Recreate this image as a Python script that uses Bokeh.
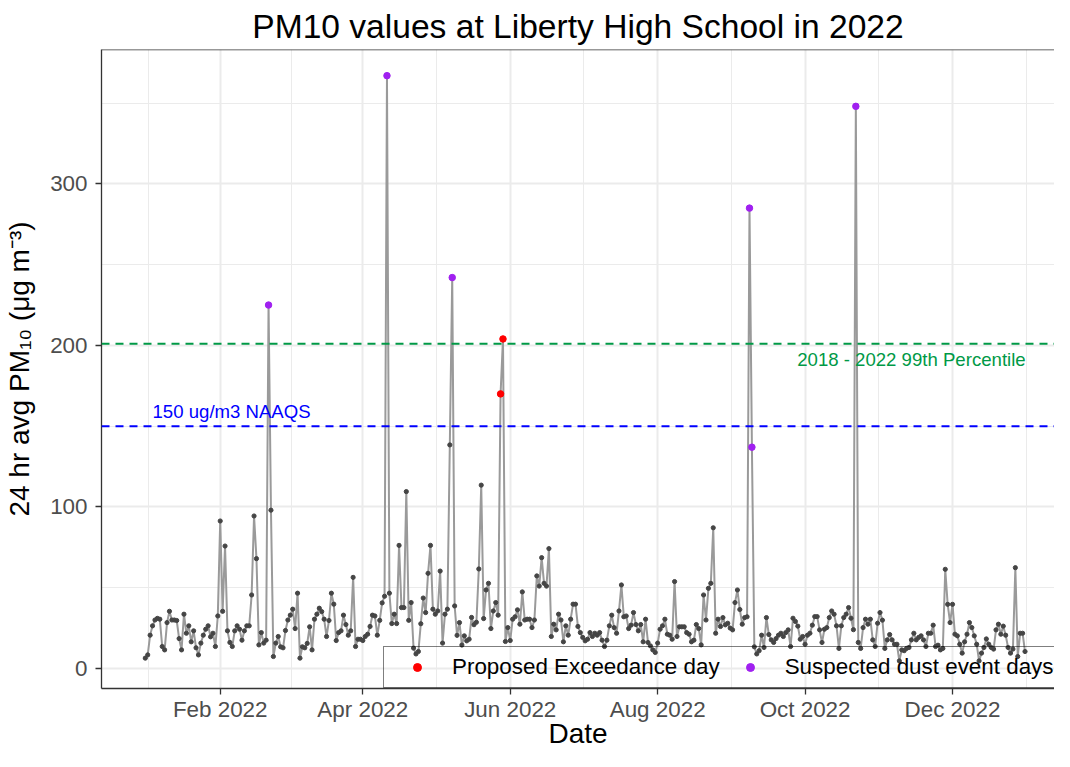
import pandas as pd
from bokeh.plotting import figure
from bokeh.models import (ColumnDataSource, FixedTicker, DatetimeTickFormatter, Span, Label,
                          Legend, LegendItem, Range1d)
from bokeh.embed import file_html
from bokeh.resources import INLINE

# ---------------- data (daily 24-hr PM10, 2022-01-01 .. 2022-12-31) ----------------
pm10 = [
    6.4, 8.4, 20.6, 26.4, 30, 31, 30.5, 13.6, 11.5, 28.4,
    35.4, 30, 30, 29.7, 18.5, 11.5, 33.6, 21.8, 26.4, 16.5,
    23.3, 12.8, 8.4, 15.7, 20.6, 24.3, 26.4, 19.6, 21.8, 13.6,
    32.5, 91.3, 35.4, 75.8, 23.3, 16.1, 13.6, 23.3, 26.4, 24.3,
    17.5, 23.3, 26.4, 26.4, 45.5, 94.4, 68, 14.6, 22.2, 15.7,
    17.5, 225, 98, 7.4, 15.7, 19.8, 13.4, 12.8, 23.5, 30,
    33, 36.7, 24.7, 46.6, 6.4, 13.4, 12.8, 15.5, 25.8, 11.5,
    30.5, 33.6, 37.3, 35.2, 30.5, 19.8, 29.7, 46.6, 39.8, 17.3,
    22.2, 23.3, 33, 27.2, 20.6, 23.3, 56.4, 13.6, 18.1, 18.1,
    17.3, 19.8, 21.2, 26, 33, 32.5, 20.6, 29.8, 40.6, 44.7,
    367, 46.6, 27.8, 33.6, 27.8, 76.2, 37.7, 37.7, 109.5, 29.8,
    40.8, 12.6, 9, 10.5, 27.7, 43.6, 34.6, 58.9, 76.2, 36.7,
    33.6, 35.6, 60.3, 15.7, 33.6, 36.7, 138.4, 242, 38.7, 20.5,
    28.4, 14.5, 20.2, 17.1, 18.1, 31.6, 27.1, 28.6, 61.6, 113.5,
    30.9, 48.6, 52.7, 24.7, 35.6, 40.8, 33, 170, 204, 16.7,
    25.3, 17.3, 30.5, 32, 36.3, 27.4, 47.4, 30, 30.5, 30.5,
    25.3, 30, 57.3, 51, 68.6, 52.7, 51, 74.2, 19.8, 27.4,
    23.9, 33.6, 30, 16.5, 26.4, 20.6, 30.5, 39.8, 39.8, 26,
    22.2, 19.2, 17.1, 18.1, 22.2, 19.8, 21.8, 20.6, 22.2, 17.5,
    13.6, 17.5, 26.4, 33, 25.3, 21.8, 35.6, 51.7, 32, 32.5,
    24.7, 26.8, 34.6, 27.2, 23.3, 27.2, 16.5, 30.5, 16.1, 14,
    11.5, 9.9, 15.7, 24.3, 26.4, 30.5, 21.2, 20.6, 18.1, 53.8,
    19.8, 25.8, 25.8, 25.8, 22.2, 21.2, 16.5, 17.5, 27.2, 24.7,
    14.6, 45.5, 30, 49.6, 52.7, 87.1, 21.8, 30.5, 26, 31.5,
    27, 28, 25, 23.9, 40.8, 48.6, 36.5, 27.4, 31.5, 32,
    285, 137, 13.4, 9, 11, 20.6, 13, 31.5, 21, 17.7,
    16.1, 18.5, 20.6, 21.8, 19.8, 22.2, 23.9, 13.6, 31.1, 29.1,
    26.2, 18.1, 19.8, 15, 20.6, 21.8, 26.8, 32.1, 32.1, 23.9,
    16.1, 24.3, 25.3, 31.5, 35.6, 33.6, 26.4, 12.4, 26.4, 31.5,
    33.6, 37.7, 31.1, 24, 348, 16.1, 12.4, 25.3, 30.5, 27.4,
    30.5, 17.7, 13.6, 28, 34.6, 29.9, 12.4, 17.7, 21, 17.7,
    15, 15, 4.7, 11.5, 11, 12.4, 13, 17.7, 21.8, 17.7,
    19.2, 20.2, 17.7, 13.6, 21.8, 21.8, 26.8, 13.6, 14.4, 11.5,
    12.4, 61.4, 39.7, 28.4, 39.7, 21.2, 20.2, 15, 9.5, 16.5,
    21.2, 28.4, 25.3, 20.2, 15, 4.7, 9.5, 13, 18.3, 15,
    13, 12, 23.9, 27.4, 21.2, 26.2, 20.6, 13, 9.5, 12,
    62.4, 7.4, 21.8, 21.8, 10.5,
]
start_date = "2022-01-01"
exceed_dates = ["2022-05-28", "2022-05-29"]
dust_dates = ["2022-02-21", "2022-04-11", "2022-05-08", "2022-09-08", "2022-09-09", "2022-10-22"]
naaqs = 150
pct99 = 201
tick_dates = ["2022-02-01", "2022-04-01", "2022-06-01", "2022-08-01", "2022-10-01", "2022-12-01"]
y_ticks = [0, 100, 200, 300]
y_minor = [50, 150, 250, 350]

# ---------------- build ----------------
dates = pd.date_range(start_date, periods=len(pm10), freq="D")
df = pd.DataFrame({"date": dates, "pm10": pm10})
src = ColumnDataSource(df)
ex = df[df["date"].isin(pd.to_datetime(exceed_dates))]
du = df[df["date"].isin(pd.to_datetime(dust_dates))]

FONT = "Liberation Sans"
t0 = pd.Timestamp(start_date)
x_start = t0 - pd.Timedelta(days=18.12)
x_end = t0 + pd.Timedelta(days=376.2)
y_start, y_end = -12.4, 383.2

p = figure(width=1054, height=751, x_axis_type="datetime",
           x_range=Range1d(x_start, x_end), y_range=Range1d(y_start, y_end),
           output_backend="svg", toolbar_location=None,
           min_border_left=101, min_border_right=0, min_border_top=48, min_border_bottom=63,
           title="PM10 values at Liberty High School in 2022")

p.title.align = "center"
p.title.text_font = FONT
p.title.text_font_size = "33.6px"
p.title.text_font_style = "normal"
p.title.text_color = "black"
p.title.standoff = 10

p.outline_line_color = None
p.background_fill_color = "white"
p.border_fill_color = "white"

# axes
tick_ms = [pd.Timestamp(d).value / 1e6 for d in tick_dates]
step = tick_ms[1] - tick_ms[0]
minor_ms = [tick_ms[0] - step / 2] + [(a + b) / 2 for a, b in zip(tick_ms[:-1], tick_ms[1:])] + [tick_ms[-1] + (tick_ms[-1] - tick_ms[-2]) / 2]
p.xaxis.ticker = FixedTicker(ticks=tick_ms, minor_ticks=minor_ms)
fmt = "%b %Y"
p.xaxis.formatter = DatetimeTickFormatter(years=fmt, months=fmt, days=fmt, hours=fmt, minutes=fmt,
                                          seconds=fmt, milliseconds=fmt, microseconds=fmt, hourmin=fmt, minsec=fmt)
p.yaxis.ticker = FixedTicker(ticks=y_ticks, minor_ticks=y_minor)

for ax in (p.xaxis[0], p.yaxis[0]):
    ax.axis_line_color = "#333333"
    ax.axis_line_width = 1.3
    ax.major_tick_line_color = "#333333"
    ax.major_tick_line_width = 1.3
    ax.major_tick_out = 6
    ax.major_tick_in = 0
    ax.minor_tick_out = 0
    ax.minor_tick_in = 0
    ax.major_label_text_font = FONT
    ax.major_label_text_font_size = "22.4px"
    ax.major_label_text_color = "#4D4D4D"
    ax.axis_label_text_font = FONT
    ax.axis_label_text_font_size = "28px"
    ax.axis_label_text_font_style = "normal"
    ax.axis_label_text_color = "black"

p.xaxis.axis_label = "Date"
p.xaxis.major_label_standoff = 2
p.xaxis.axis_label_standoff = -7
p.yaxis.axis_label = "24 hr avg PM\u2081\u2080 (\u03bcg m\u207b\u00b3)"
p.yaxis.major_label_standoff = 8
p.yaxis.axis_label_standoff = 12

# grid
for g in (p.xgrid[0], p.ygrid[0]):
    g.grid_line_color = "#EBEBEB"
    g.grid_line_width = 2
    g.minor_grid_line_color = "#EBEBEB"
    g.minor_grid_line_width = 1

# top border of panel
p.add_layout(Span(location=y_end, dimension="width", line_color="#333333", line_width=1.3))

# reference lines
p.add_layout(Span(location=pct99, dimension="width", line_color="#009946", line_width=2, line_dash="8 6"))
p.add_layout(Span(location=naaqs, dimension="width", line_color="#0000FF", line_width=2, line_dash="8 6"))

p.add_layout(Label(x=t0 + pd.Timedelta(days=35.7), y=158.9, text="150 ug/m3 NAAQS",
                   text_font=FONT, text_font_size="18.6px", text_color="#0000FF",
                   text_align="center", text_baseline="middle"))
p.add_layout(Label(x=t0 + pd.Timedelta(days=317), y=191, text="2018 - 2022 99th Percentile",
                   text_font=FONT, text_font_size="18.6px", text_color="#009946",
                   text_align="center", text_baseline="middle"))

# series
p.line("date", "pm10", source=src, line_color="#9A9A9A", line_width=2)
p.scatter("date", "pm10", source=src, size=4.2, fill_color="#454545", line_color="#454545")
r_ex = p.scatter(ex["date"], ex["pm10"], size=6.5, fill_color="#FF0000", line_color="#FF0000")
r_du = p.scatter(du["date"], du["pm10"], size=6.5, fill_color="#A020F0", line_color="#A020F0")

legend = Legend(items=[LegendItem(label="Proposed Exceedance day", renderers=[r_ex]),
                       LegendItem(label="Suspected dust event days", renderers=[r_du])],
                location=(282, 0), orientation="horizontal", margin=0,
                padding=7, spacing=4, glyph_width=52, glyph_height=20, label_standoff=9,
                label_text_font=FONT, label_text_font_size="22.4px", label_text_color="black",
                border_line_color="black", border_line_width=1.5, background_fill_alpha=0)
p.add_layout(legend)

open("out.html", "w").write(file_html(p, INLINE))
